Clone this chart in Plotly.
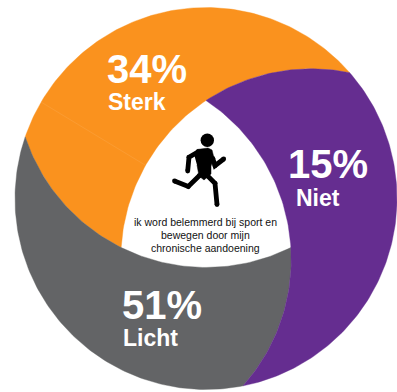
import numpy as np
import plotly.graph_objects as go

# Answer shares and how they are worded in the chart
labels = ["Sterk", "Licht", "Niet"]
shares = [34, 51, 15]
colors = ["#FA921E", "#636466", "#652D90"]
caption = ["ik word belemmerd bij sport en", "bewegen door mijn", "chronische aandoening"]

# Swirl geometry, in px around the wheel centre (y up)
WIDTH, HEIGHT = 397, 392
CX, CY = 206, 198.5
R_OUTER = 191
R_INNER = 98
OUTER_OFFSET = 48.8  # clockwise angle between a triangle corner and its blade tip


def polar(r, deg):
    a = np.radians(deg)
    return np.array([r * np.sin(a), r * np.cos(a)])


def arc_through(p0, p1, p2, n=90):
    """Sample the circular arc that starts at p0, passes p1 and ends at p2."""
    ax, ay = p0
    bx, by = p1
    cx, cy = p2
    d = 2 * (ax * (by - cy) + bx * (cy - ay) + cx * (ay - by))
    ux = ((ax**2 + ay**2) * (by - cy) + (bx**2 + by**2) * (cy - ay) + (cx**2 + cy**2) * (ay - by)) / d
    uy = ((ax**2 + ay**2) * (cx - bx) + (bx**2 + by**2) * (ax - cx) + (cx**2 + cy**2) * (bx - ax)) / d
    rad = np.hypot(ax - ux, ay - uy)
    t0 = np.arctan2(ay - uy, ax - ux)
    t1 = np.arctan2(by - uy, bx - ux)
    t2 = np.arctan2(cy - uy, cx - ux)
    sweep1 = (t1 - t0) % (2 * np.pi)
    sweep2 = (t2 - t0) % (2 * np.pi)
    if sweep1 > sweep2:  # go the other way round
        sweep2 -= 2 * np.pi
    t = t0 + np.linspace(0, sweep2, n)
    return np.column_stack([ux + rad * np.cos(t), uy + rad * np.sin(t)])


def blade(rot):
    """One swirl blade; rot = clockwise rotation of the top-corner blade."""
    tip = polar(R_OUTER, OUTER_OFFSET + rot)
    corner_a = polar(R_INNER, rot)
    corner_b = polar(R_INNER, rot - 120)
    prev_tip = polar(R_OUTER, OUTER_OFFSET + rot - 120)
    prev_far = polar(R_INNER, rot - 240)
    inner = arc_through(tip, corner_a, corner_b)
    back = arc_through(prev_tip, corner_b, prev_far)
    # keep only the stretch of the neighbouring arc between its tip and the corner
    stop = np.argmin(np.hypot(*(back - corner_b).T))
    back = back[: stop + 1][::-1]
    th = np.radians(np.linspace(OUTER_OFFSET + rot - 120, OUTER_OFFSET + rot, 120))
    rim = np.column_stack([R_OUTER * np.sin(th), R_OUTER * np.cos(th)])
    return np.vstack([inner, back, rim])


fig = go.Figure()

for label, color, rot in zip(labels, colors, [0, -120, 120]):
    pts = blade(rot)
    fig.add_trace(go.Scatter(x=pts[:, 0], y=pts[:, 1], mode="lines", fill="toself",
                             fillcolor=color, line=dict(color=color, width=0.4),
                             name=label, hoverinfo="skip", showlegend=False))

# Faint seam across the orange blade
fig.add_trace(go.Scatter(x=[-165, -61], y=[96.5, 33.5], mode="lines",
                         line=dict(color="#FBA544", width=0.5),
                         hoverinfo="skip", showlegend=False))

# Runner pictogram: limbs as round-ended strokes, torso as a polygon
BLACK = "#000000"


def px(x, y):
    """Page pixel to plot coordinate."""
    return x - CX, CY - y


limbs = [
    [(187.7, 171), (189, 157.3), (198.3, 151.7)],
    [(212.7, 158.3), (215, 165.7), (223.7, 159)],
    [(199.5, 175.5), (188.3, 186.5), (174.5, 181)],
    [(205, 173.3), (215, 183.3), (217, 204.5)],
]
for limb in limbs:
    xs, ys = zip(*[px(*p) for p in limb])
    fig.add_trace(go.Scatter(x=xs, y=ys, mode="lines+markers",
                             line=dict(color=BLACK, width=4.8),
                             marker=dict(color=BLACK, size=4.8),
                             hoverinfo="skip", showlegend=False))

torso = [(194, 154), (197, 149.5), (208, 148), (212, 150), (214, 158), (211, 166), (211, 174),
         (204, 180), (199, 176), (197, 165)]
xs, ys = zip(*[px(*p) for p in torso])
fig.add_trace(go.Scatter(x=xs, y=ys, mode="lines", fill="toself", fillcolor=BLACK,
                         line=dict(color=BLACK, width=0.5), hoverinfo="skip", showlegend=False))
hx, hy = px(207.3, 140.3)
fig.add_trace(go.Scatter(x=[hx], y=[hy], mode="markers", marker=dict(color=BLACK, size=13.4),
                         hoverinfo="skip", showlegend=False))

FONT = "Liberation Sans, Arial, sans-serif"
pct_pos = {"Sterk": (105, 69), "Licht": (120, 305), "Niet": (286, 164)}
name_pos = {"Sterk": (106, 102), "Licht": (121, 338), "Niet": (294, 198)}

annotations = []
for label, share in zip(labels, shares):
    x, y = px(*pct_pos[label])
    annotations.append(dict(x=x, y=y, text=f"<b>{share}%</b>", showarrow=False, xanchor="left",
                            yanchor="middle", font=dict(family=FONT, size=40, color="white")))
    x, y = px(*name_pos[label])
    annotations.append(dict(x=x, y=y, text=f"<b>{label}</b>", showarrow=False, xanchor="left",
                            yanchor="middle", font=dict(family=FONT, size=23, color="white")))

for line, yy in zip(caption, [222, 235, 248]):
    x, y = px(205, yy)
    annotations.append(dict(x=x, y=y, text=line, showarrow=False, xanchor="center", yanchor="middle",
                            font=dict(family=FONT, size=10.5, color="#111111")))

fig.update_layout(
    width=WIDTH, height=HEIGHT, autosize=False,
    margin=dict(l=0, r=0, t=0, b=0),
    paper_bgcolor="white", plot_bgcolor="white",
    xaxis=dict(range=[-CX, WIDTH - CX], visible=False, fixedrange=True),
    yaxis=dict(range=[CY - HEIGHT, CY], visible=False, fixedrange=True),
    annotations=annotations,
    showlegend=False,
)

fig.write_html("out.html", config={"displayModeBar": False})
